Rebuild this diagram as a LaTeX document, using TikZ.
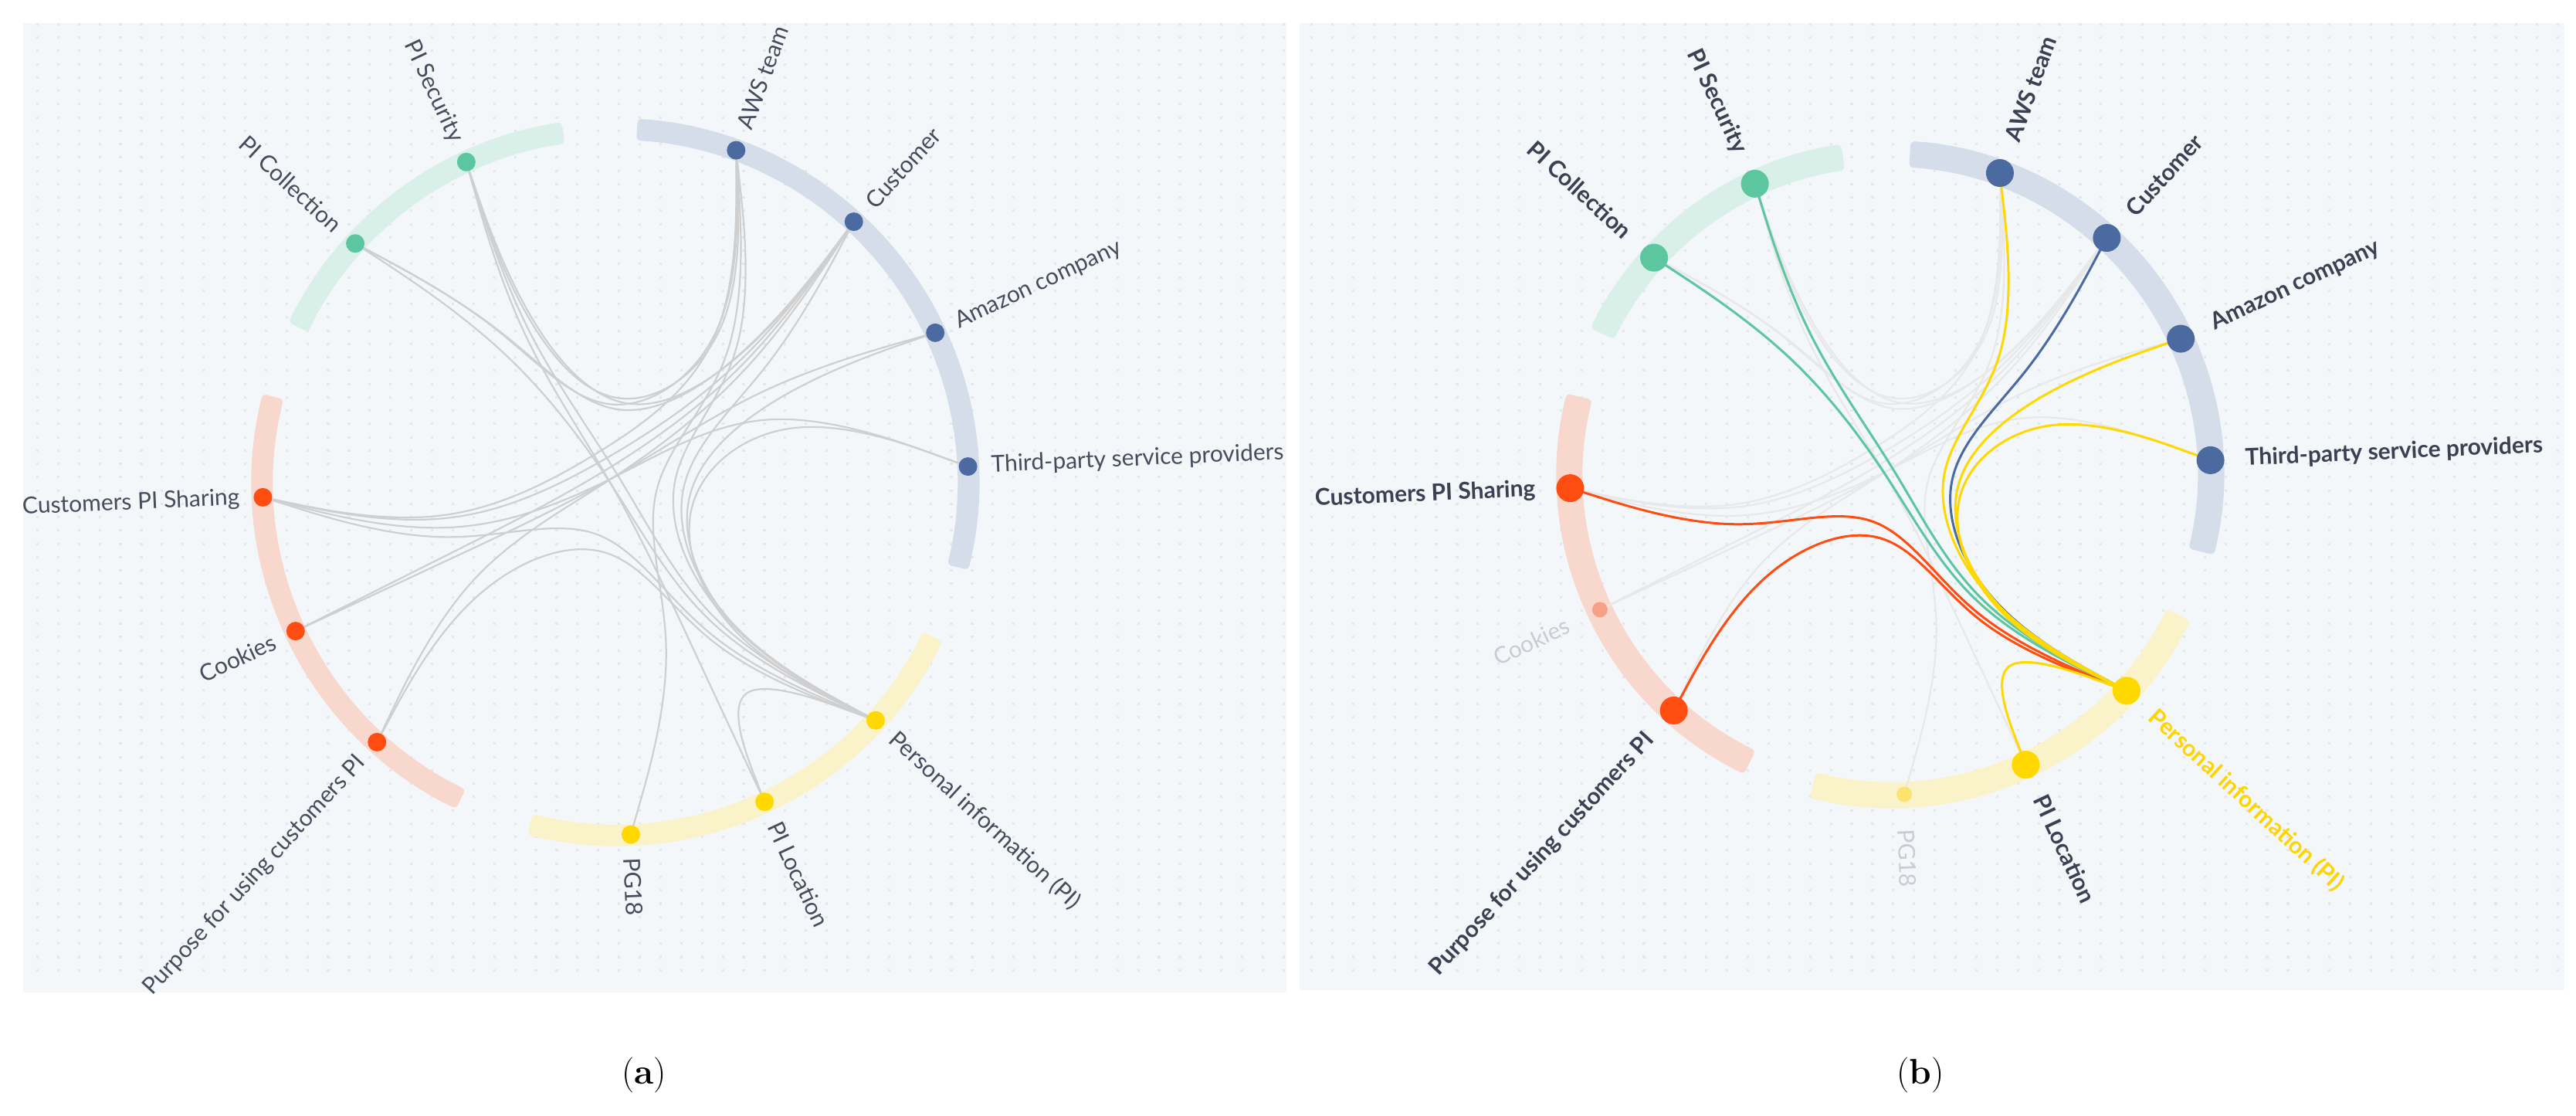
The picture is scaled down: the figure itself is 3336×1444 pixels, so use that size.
\documentclass[tikz,border=0pt]{standalone}
\usepackage{fontspec}
\newfontfamily\lato{Lato}
\usetikzlibrary{calc}
\definecolor{bgpanel}{HTML}{F4F7FA}
\definecolor{griddot}{HTML}{E3E7ED}
\definecolor{gband}{HTML}{D8F0E7}
\definecolor{bband}{HTML}{D4DDE9}
\definecolor{rband}{HTML}{F8D7CC}
\definecolor{yband}{HTML}{FAF3C9}
\definecolor{gdot}{HTML}{5CC6A0}
\definecolor{bdot}{HTML}{4A6AA0}
\definecolor{rdot}{HTML}{FF4D12}
\definecolor{ydot}{HTML}{FFD800}
\definecolor{rfade}{HTML}{F7A088}
\definecolor{yfade}{HTML}{FBE46E}
\definecolor{edgegray}{HTML}{CFCFCF}
\definecolor{edgefade}{HTML}{E8E8E8}
\definecolor{labtext}{HTML}{464C5C}
\definecolor{labbold}{HTML}{3B4052}
\definecolor{labfade}{HTML}{C9CCD2}
\definecolor{labyellow}{HTML}{FFD400}
\tikzset{
  edgeA/.style={draw=edgegray, line width=2.2},
  edgeF/.style={draw=edgefade, line width=2.2},
  edgeG/.style={draw=gdot, line width=3},
  edgeB/.style={draw=bdot, line width=3},
  edgeR/.style={draw=rdot, line width=3},
  edgeY/.style={draw=ydot, line width=3},
  laba/.style={font=\lato\fontsize{30}{36}\selectfont, text=labtext, inner sep=0},
  labb/.style={font=\lato\bfseries\fontsize{30}{36}\selectfont, text=labbold, inner sep=0},
  labbf/.style={font=\lato\fontsize{30}{36}\selectfont, text=labfade, inner sep=0},
  labby/.style={font=\lato\bfseries\fontsize{30}{36}\selectfont, text=labyellow, inner sep=0},
  dota/.style={circle, inner sep=0, minimum size=24},
  dotb/.style={circle, inner sep=0, minimum size=36},
  dotbs/.style={circle, inner sep=0, minimum size=20},
}
% hierarchical edge bundle between groups: style, prefix, src, srcgroup, tgtgroup, tgt
\newcommand\hebpath[6]{%
  \coordinate (Q0) at (#2#3);
  \coordinate (Q4) at (#2#6);
  \coordinate (Q1) at ($($(Q0)!0.25!(Q4)$)!0.85!(#2#4)$);
  \coordinate (Q2) at ($($(Q0)!0.5!(Q4)$)!0.85!(#2c)$);
  \coordinate (Q3) at ($($(Q0)!0.75!(Q4)$)!0.85!(#2#5)$);
  \draw[#1] (Q0) -- ($0.833333*(Q0)+0.166667*(Q1)$)
    .. controls ($0.666667*(Q0)+0.333333*(Q1)$) and ($0.333333*(Q0)+0.666667*(Q1)$) .. ($0.166667*(Q0)+0.666667*(Q1)+0.166667*(Q2)$)
    .. controls ($0.666667*(Q1)+0.333333*(Q2)$) and ($0.333333*(Q1)+0.666667*(Q2)$) .. ($0.166667*(Q1)+0.666667*(Q2)+0.166667*(Q3)$)
    .. controls ($0.666667*(Q2)+0.333333*(Q3)$) and ($0.333333*(Q2)+0.666667*(Q3)$) .. ($0.166667*(Q2)+0.666667*(Q3)+0.166667*(Q4)$)
    .. controls ($0.666667*(Q3)+0.333333*(Q4)$) and ($0.333333*(Q3)+0.666667*(Q4)$) .. ($0.166667*(Q3)+0.833333*(Q4)$) -- (Q4);
}
% same group: style, prefix, src, group, tgt
\newcommand\hebshort[5]{%
  \coordinate (Q0) at (#2#3);
  \coordinate (Q2) at (#2#5);
  \coordinate (Q1) at ($($(Q0)!0.5!(Q2)$)!0.85!(#2#4)$);
  \draw[#1] (Q0) -- ($0.833333*(Q0)+0.166667*(Q1)$)
    .. controls ($0.666667*(Q0)+0.333333*(Q1)$) and ($0.333333*(Q0)+0.666667*(Q1)$) .. ($0.166667*(Q0)+0.666667*(Q1)+0.166667*(Q2)$)
    .. controls ($0.666667*(Q1)+0.333333*(Q2)$) and ($0.333333*(Q1)+0.666667*(Q2)$) .. ($0.166667*(Q1)+0.833333*(Q2)$) -- (Q2);
}
% band: prefix, from, to, colour, inner radius, outer radius
\newcommand\bandarc[6]{%
  \fill[#4, rounded corners=5] ($(#1c)+(#2:#6)$) arc[start angle=#2, end angle=#3, radius=#6]
    -- ($(#1c)+(#3:#5)$) arc[start angle=#3, end angle=#2, radius=#5] -- cycle;
}
\begin{document}
\begin{tikzpicture}[x=1pt,y=1pt]
\useasboundingbox (0,0) rectangle (3336,1444);
\fill[white] (0,0) rectangle (3336,1444);
% panels
\fill[bgpanel] (30,159) rectangle (1666,1414);
\fill[bgpanel] (1683,162) rectangle (3321,1414);
\foreach \i in {0,...,60}{\foreach \j in {0,...,71}{
  \fill[griddot] (46.8+26.9*\i, 1411-17.25*\j) rectangle ++(3.2,3.2);
  \fill[griddot] (1697+26.9*\i, 1411-17.25*\j) rectangle ++(3.2,3.2);
}}

% ---------- panel (a) ----------
\coordinate (a-c) at (797,820);
\foreach \n/\ang in {TP/2.5, AM/25, CU/47.5, AW/70, PS/115, PC/137.5, CS/182.5, CK/205, PU/227.5, PG/272.5, PL/295, PI/317.5}
  \coordinate (a-\n) at ($(a-c)+(\ang:457)$);
\foreach \n/\ang in {gB/36.25, gG/126.25, gR/205, gY/295}
  \coordinate (a-\n) at ($(a-c)+(\ang:228.5)$);
\bandarc{a-}{-14}{86.5}{bband}{443}{471}
\bandarc{a-}{98.5}{154}{gband}{443}{471}
\bandarc{a-}{166}{244}{rband}{443}{471}
\bandarc{a-}{256}{334}{yband}{443}{471}
% edges (a)
\hebpath{edgeA}{a-}{AW}{gB}{gG}{PS}
\hebpath{edgeA}{a-}{AW}{gB}{gG}{PC}
\hebpath{edgeA}{a-}{CU}{gB}{gG}{PS}
\hebpath{edgeA}{a-}{CU}{gB}{gG}{PC}
\hebpath{edgeA}{a-}{AW}{gB}{gR}{CS}
\hebpath{edgeA}{a-}{CU}{gB}{gR}{CS}
\hebpath{edgeA}{a-}{CU}{gB}{gR}{CK}
\hebpath{edgeA}{a-}{CU}{gB}{gR}{PU}
\hebpath{edgeA}{a-}{AM}{gB}{gR}{CK}
\hebpath{edgeA}{a-}{TP}{gB}{gR}{CS}
\hebpath{edgeA}{a-}{PS}{gG}{gY}{PL}
\hebpath{edgeA}{a-}{AW}{gB}{gY}{PG}
\hebpath{edgeA}{a-}{CU}{gB}{gY}{PI}
\hebpath{edgeA}{a-}{AW}{gB}{gY}{PI}
\hebpath{edgeA}{a-}{AM}{gB}{gY}{PI}
\hebpath{edgeA}{a-}{TP}{gB}{gY}{PI}
\hebpath{edgeA}{a-}{PC}{gG}{gY}{PI}
\hebpath{edgeA}{a-}{PS}{gG}{gY}{PI}
\hebpath{edgeA}{a-}{CS}{gR}{gY}{PI}
\hebpath{edgeA}{a-}{PU}{gR}{gY}{PI}
\hebshort{edgeA}{a-}{PL}{gY}{PI}
% dots (a)
\foreach \n in {TP,AM,CU,AW} \node[dota, fill=bdot] (a-d\n) at (a-\n) {};
\foreach \n in {PS,PC} \node[dota, fill=gdot] (a-d\n) at (a-\n) {};
\foreach \n in {CS,CK,PU} \node[dota, fill=rdot] (a-d\n) at (a-\n) {};
\foreach \n in {PG,PL,PI} \node[dota, fill=ydot] (a-d\n) at (a-\n) {};
% labels (a)
\node[laba, rotate=2.5, anchor=west] (a-lTP) at ($(a-c)+(2.5:487)$) {Third-party service providers};
\node[laba, rotate=25, anchor=west] (a-lAM) at ($(a-c)+(25:487)$) {Amazon company};
\node[laba, rotate=47.5, anchor=west] (a-lCU) at ($(a-c)+(47.5:487)$) {Customer};
\node[laba, rotate=70, anchor=west] (a-lAW) at ($(a-c)+(70:487)$) {AWS team};
\node[laba, rotate=-65, anchor=east] (a-lPS) at ($(a-c)+(115:487)$) {PI Security};
\node[laba, rotate=-42.5, anchor=east] (a-lPC) at ($(a-c)+(137.5:487)$) {PI Collection};
\node[laba, rotate=2.5, anchor=east] (a-lCS) at ($(a-c)+(182.5:487)$) {Customers PI Sharing};
\node[laba, rotate=25, anchor=east] (a-lCK) at ($(a-c)+(205:487)$) {Cookies};
\node[laba, rotate=47.5, anchor=east] (a-lPU) at ($(a-c)+(227.5:487)$) {Purpose for using customers PI};
\node[laba, rotate=272.5, anchor=west] (a-lPG) at ($(a-c)+(272.5:487)$) {PG18};
\node[laba, rotate=295, anchor=west] (a-lPL) at ($(a-c)+(295:487)$) {PI Location};
\node[laba, rotate=317.5, anchor=west] (a-lPI) at ($(a-c)+(317.5:487)$) {Personal information (PI)};

% ---------- panel (b) ----------
\coordinate (b-c) at (2448,830);
\foreach \n/\ang in {TP/2.5, AM/25, CU/47.5, AW/70, PS/115, PC/137.5, CS/182.5, CK/205, PU/227.5, PG/272.5, PL/295, PI/317.5}
  \coordinate (b-\n) at ($(b-c)+(\ang:415)$);
\foreach \n/\ang in {gB/36.25, gG/126.25, gR/205, gY/295}
  \coordinate (b-\n) at ($(b-c)+(\ang:207.5)$);
\bandarc{b-}{-14}{86.5}{bband}{398}{432}
\bandarc{b-}{98.5}{154}{gband}{398}{432}
\bandarc{b-}{166}{244}{rband}{398}{432}
\bandarc{b-}{256}{334}{yband}{398}{432}
% faded edges (b)
\hebpath{edgeF}{b-}{AW}{gB}{gG}{PS}
\hebpath{edgeF}{b-}{AW}{gB}{gG}{PC}
\hebpath{edgeF}{b-}{CU}{gB}{gG}{PS}
\hebpath{edgeF}{b-}{CU}{gB}{gG}{PC}
\hebpath{edgeF}{b-}{AW}{gB}{gR}{CS}
\hebpath{edgeF}{b-}{CU}{gB}{gR}{CS}
\hebpath{edgeF}{b-}{CU}{gB}{gR}{CK}
\hebpath{edgeF}{b-}{CU}{gB}{gR}{PU}
\hebpath{edgeF}{b-}{AM}{gB}{gR}{CK}
\hebpath{edgeF}{b-}{TP}{gB}{gR}{CS}
\hebpath{edgeF}{b-}{PS}{gG}{gY}{PL}
\hebpath{edgeF}{b-}{AW}{gB}{gY}{PG}
% highlighted edges (b)
\hebpath{edgeR}{b-}{CS}{gR}{gY}{PI}
\hebpath{edgeR}{b-}{PU}{gR}{gY}{PI}
\hebpath{edgeG}{b-}{PC}{gG}{gY}{PI}
\hebpath{edgeG}{b-}{PS}{gG}{gY}{PI}
\hebpath{edgeB}{b-}{CU}{gB}{gY}{PI}
\hebpath{edgeY}{b-}{AW}{gB}{gY}{PI}
\hebpath{edgeY}{b-}{AM}{gB}{gY}{PI}
\hebpath{edgeY}{b-}{TP}{gB}{gY}{PI}
\hebshort{edgeY}{b-}{PL}{gY}{PI}
% dots (b)
\foreach \n in {TP,AM,CU,AW} \node[dotb, fill=bdot] (b-d\n) at (b-\n) {};
\foreach \n in {PS,PC} \node[dotb, fill=gdot] (b-d\n) at (b-\n) {};
\foreach \n in {CS,PU} \node[dotb, fill=rdot] (b-d\n) at (b-\n) {};
\node[dotbs, fill=rfade] (b-dCK) at (b-CK) {};
\foreach \n in {PL,PI} \node[dotb, fill=ydot] (b-d\n) at (b-\n) {};
\node[dotbs, fill=yfade] (b-dPG) at (b-PG) {};
% labels (b)
\node[labb, rotate=2.5, anchor=west] (b-lTP) at ($(b-c)+(2.5:460)$) {Third-party service providers};
\node[labb, rotate=25, anchor=west] (b-lAM) at ($(b-c)+(25:460)$) {Amazon company};
\node[labb, rotate=47.5, anchor=west] (b-lCU) at ($(b-c)+(47.5:460)$) {Customer};
\node[labb, rotate=70, anchor=west] (b-lAW) at ($(b-c)+(70:460)$) {AWS team};
\node[labb, rotate=-65, anchor=east] (b-lPS) at ($(b-c)+(115:460)$) {PI Security};
\node[labb, rotate=-42.5, anchor=east] (b-lPC) at ($(b-c)+(137.5:460)$) {PI Collection};
\node[labb, rotate=2.5, anchor=east] (b-lCS) at ($(b-c)+(182.5:460)$) {Customers PI Sharing};
\node[labbf, rotate=25, anchor=east] (b-lCK) at ($(b-c)+(205:460)$) {Cookies};
\node[labb, rotate=47.5, anchor=east] (b-lPU) at ($(b-c)+(227.5:460)$) {Purpose for using customers PI};
\node[labbf, rotate=272.5, anchor=west] (b-lPG) at ($(b-c)+(272.5:460)$) {PG18};
\node[labb, rotate=295, anchor=west] (b-lPL) at ($(b-c)+(295:460)$) {PI Location};
\node[labby, rotate=317.5, anchor=west] (b-lPI) at ($(b-c)+(317.5:460)$) {Personal information (PI)};

% captions
\node[font=\fontsize{46}{50}\selectfont, inner sep=0] (capa) at (834,52) {(\textbf{a})};
\node[font=\fontsize{46}{50}\selectfont, inner sep=0] (capb) at (2487,52) {(\textbf{b})};
\end{tikzpicture}
\end{document}
